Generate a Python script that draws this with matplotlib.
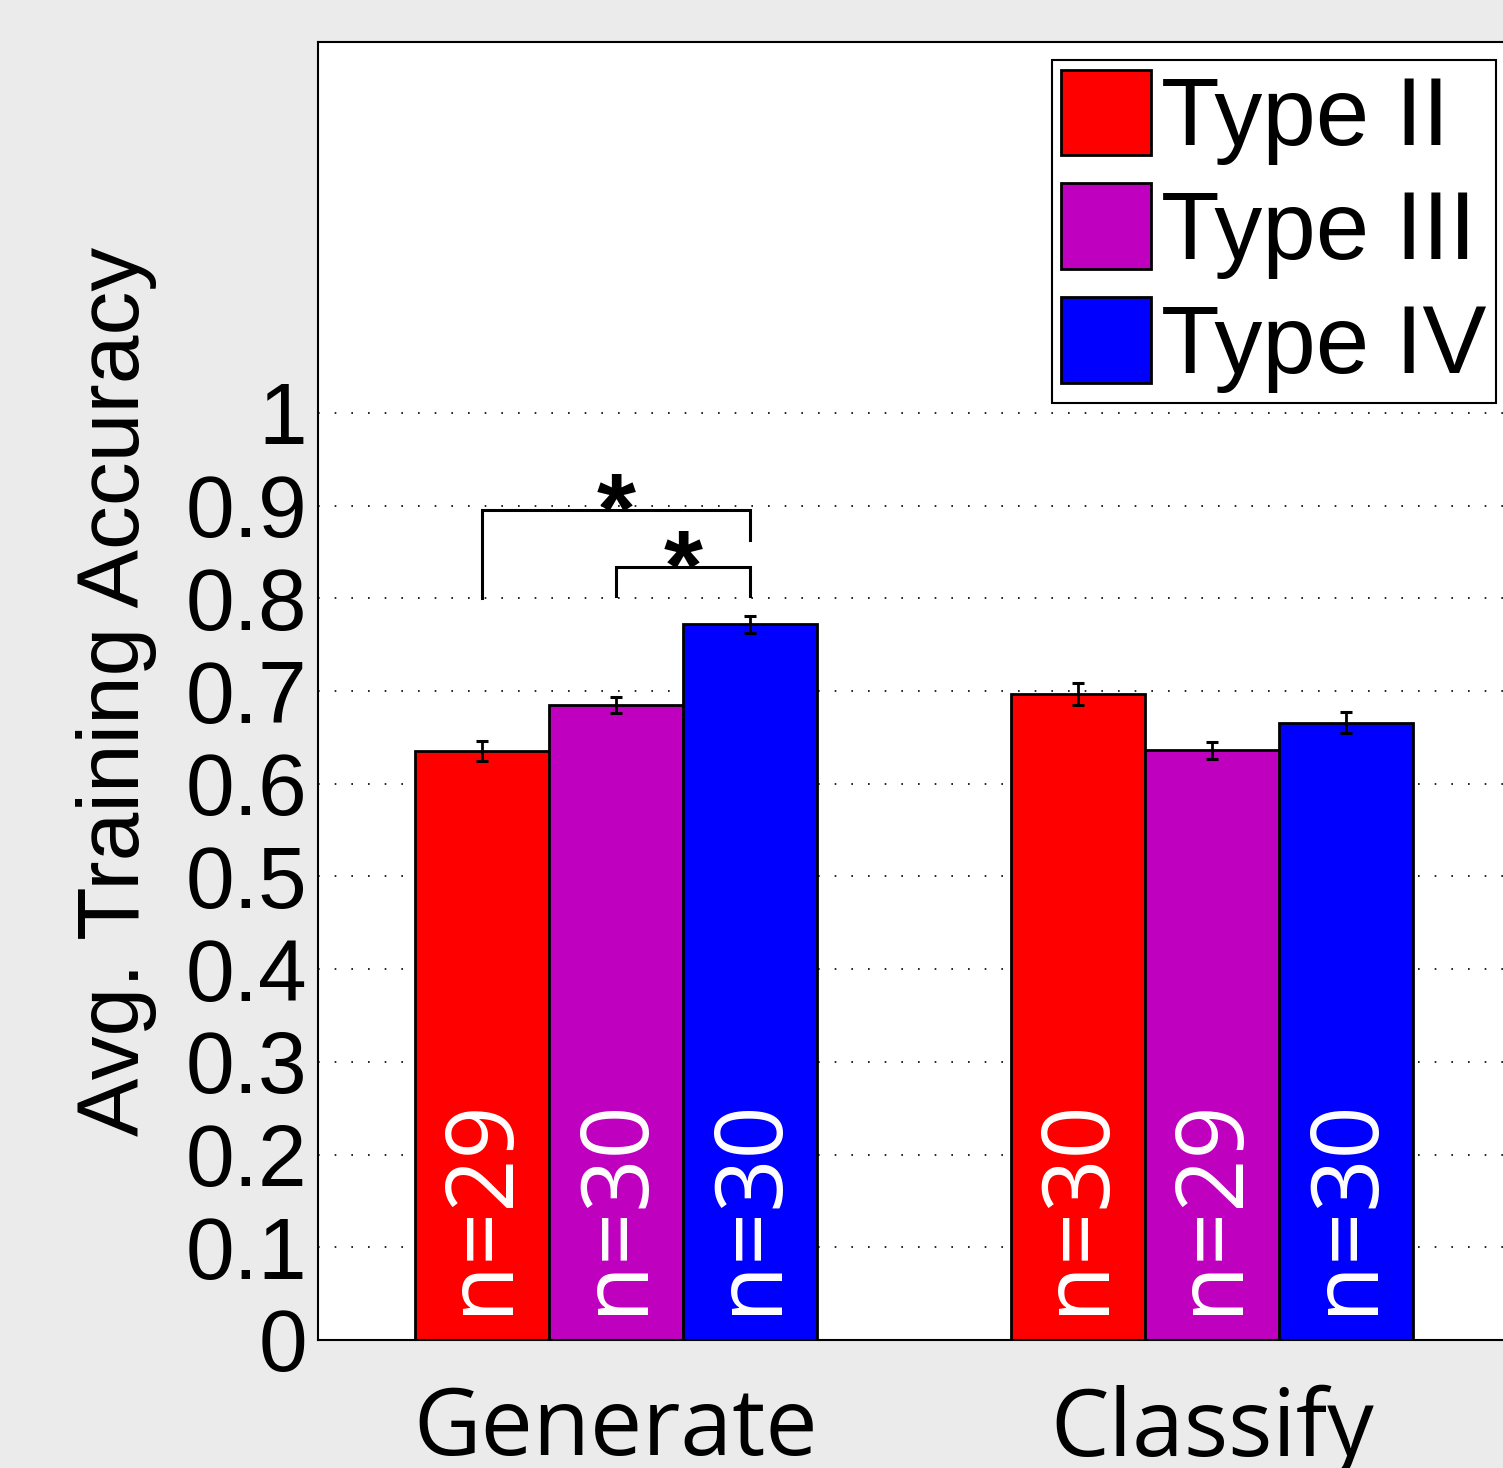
import numpy as np
import matplotlib.pyplot as plt

tasks = ['Generate', 'Classify']
types = ['Type II', 'Type III', 'Type IV']
colors = ['#ff0000', '#bf00bf', '#0000ff']

# mean training accuracy and standard error per task
acc_type2 = [0.635, 0.697]
acc_type3 = [0.685, 0.636]
acc_type4 = [0.772, 0.666]
sem_type2 = [0.011, 0.012]
sem_type3 = [0.009, 0.009]
sem_type4 = [0.009, 0.011]

# participants per condition
n_type2 = [29, 30]
n_type3 = [30, 29]
n_type4 = [30, 30]

# significant comparisons on Generate: (type a, type b, bar height, leg a end, leg b end)
sig_pairs = [(0, 2, 0.895, 0.800, 0.863),
             (1, 2, 0.834, 0.803, 0.803)]

accs = [acc_type2, acc_type3, acc_type4]
sems = [sem_type2, sem_type3, sem_type4]
ns = [n_type2, n_type3, n_type4]

fig = plt.figure(figsize=(15.03, 14.68), dpi=100, facecolor='#ebebeb')
ax = fig.add_axes([318/1503, 128/1468, 1192/1503, 1298/1468])

x = np.arange(1, len(tasks) + 1)
width = 0.225
offsets = [-width, 0, width]

bars = []
for k in range(3):
    b = ax.bar(x + offsets[k], accs[k], width, color=colors[k], edgecolor='k',
               linewidth=2, label=types[k], zorder=2)
    bars.append(b)
    ax.errorbar(x + offsets[k], accs[k], yerr=sems[k], fmt='none', ecolor='k',
                elinewidth=2, capsize=4.3, capthick=2.2, zorder=3)
    for xi, n in zip(x + offsets[k], ns[k]):
        ax.text(xi, 0.028, 'n=%d' % n, rotation=90, ha='center', va='bottom',
                color='white', fontsize=67, family='Open Sans', zorder=4)

# significance brackets
for a, b, top, ya, yb in sig_pairs:
    xa = x[0] + offsets[a]
    xb = x[0] + offsets[b]
    ax.plot([xa, xa, xb, xb], [ya, top, top, yb], color='k', lw=2.2,
            solid_joinstyle='miter', zorder=3)
    ax.text((xa + xb) / 2, top - 0.035, '*', ha='center', va='baseline',
            fontsize=72, family='Liberation Sans', fontweight='bold')

ax.set_xlim(0.5, 2.5)
ax.set_ylim(0, 1.4)
ax.set_yticks(np.arange(0, 1.01, 0.1))
ax.set_yticklabels(['0'] + ['%.1f' % v for v in np.arange(0.1, 0.95, 0.1)] + ['1'],
                   family='Liberation Sans', fontsize=63)
ax.set_xticks(x)
ax.set_xticklabels(tasks, family='Open Sans', fontsize=67)
ax.tick_params(axis='both', length=0)
ax.tick_params(axis='y', pad=8)
ax.tick_params(axis='x', pad=32)
ax.set_ylabel('Avg. Training Accuracy', family='Liberation Sans', fontsize=63,
              labelpad=20)

ax.yaxis.grid(True, linestyle=(0, (1, 9)), color='k', lw=1.2)
ax.set_axisbelow(True)
for s in ['left', 'top', 'bottom', 'right']:
    ax.spines[s].set_linewidth(1.5)

leg = ax.legend(handles=bars, loc='upper right',
                bbox_to_anchor=(1496/1503, 1 - 60/1468),
                bbox_transform=fig.transFigure, borderaxespad=0,
                prop={'family': 'Liberation Sans', 'size': 69},
                handlelength=0.94, handleheight=1.0, handletextpad=0.1,
                labelspacing=0.19, borderpad=0.1, fancybox=False,
                edgecolor='k', framealpha=1)
leg.get_frame().set_linewidth(1.5)

fig.savefig('out.png', dpi=100, facecolor=fig.get_facecolor())
